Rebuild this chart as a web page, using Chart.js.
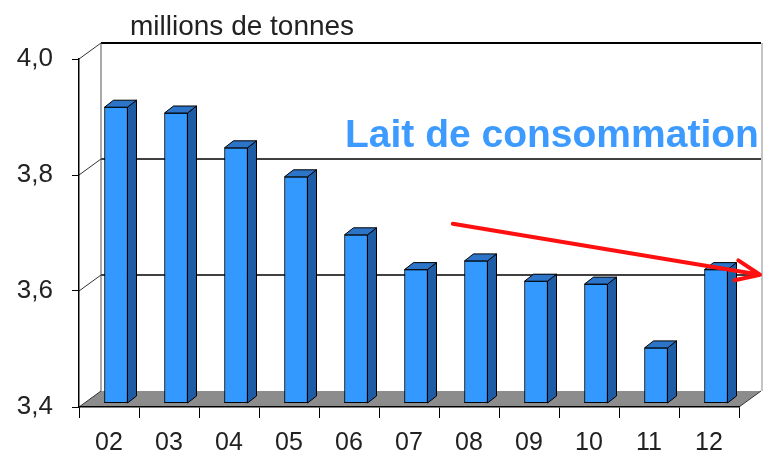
<!DOCTYPE html>
<html>
<head>
<meta charset="utf-8">
<script src="https://cdn.jsdelivr.net/npm/chart.js@4/dist/chart.umd.min.js"></script>
<style>
  html, body { margin: 0; padding: 0; background: #fff; }
  canvas { display: block; }
</style>
</head>
<body>
<canvas id="chart" width="767" height="456"></canvas>
<script>
// data
const years = ['02', '03', '04', '05', '06', '07', '08', '09', '10', '11', '12'];
const laitConsommation = [3.91, 3.90, 3.84, 3.79, 3.69, 3.63, 3.645, 3.61, 3.605, 3.495, 3.63];
const yTicks = [3.4, 3.6, 3.8, 4.0];

// trend arrow, in data units (category index, value)
const arrowFrom = [5.73, 3.716];
const arrowTo = [10.85, 3.628];

// fake 3d geometry
const wall = { dx: 22, dy: -16 };
const barDepth = { dx: 9, dy: -7 };
const barShift = { dx: 7, dy: -4 };

const fmt = (v) => v.toFixed(1).replace('.', ',');

const box3d = {
  id: 'box3d',
  beforeDraw(chart) {
    const { ctx, chartArea: a, scales: { y } } = chart;
    ctx.save();

    // floor
    ctx.beginPath();
    ctx.moveTo(a.left, a.bottom);
    ctx.lineTo(a.right, a.bottom);
    ctx.lineTo(a.right + wall.dx, a.bottom + wall.dy);
    ctx.lineTo(a.left + wall.dx, a.bottom + wall.dy);
    ctx.closePath();
    ctx.fillStyle = '#8c8c8c';
    ctx.fill();
    ctx.strokeStyle = '#333';
    ctx.lineWidth = 1;
    ctx.beginPath();
    ctx.moveTo(a.right, a.bottom);
    ctx.lineTo(a.right + wall.dx, a.bottom + wall.dy);
    ctx.stroke();

    // back wall grid lines + left wall diagonals
    yTicks.forEach((v) => {
      const py = y.getPixelForValue(v);
      ctx.strokeStyle = '#000';
      ctx.lineWidth = v === 4.0 ? 2 : 1.5;
      if (v > 3.4) {
        ctx.beginPath();
        ctx.moveTo(a.left + wall.dx, py + wall.dy);
        ctx.lineTo(a.right + wall.dx, py + wall.dy);
        ctx.stroke();
      }
      ctx.lineWidth = 1;
      ctx.strokeStyle = '#333';
      ctx.beginPath();
      ctx.moveTo(a.left, py);
      ctx.lineTo(a.left + wall.dx, py + wall.dy);
      ctx.stroke();
    });

    // left wall back edge
    ctx.strokeStyle = '#555';
    ctx.beginPath();
    ctx.moveTo(a.left + wall.dx, a.top + wall.dy);
    ctx.lineTo(a.left + wall.dx, a.bottom + wall.dy);
    ctx.stroke();

    // right wall edge
    ctx.strokeStyle = '#c4c4c4';
    ctx.lineWidth = 2;
    ctx.beginPath();
    ctx.moveTo(a.right + wall.dx + 1, a.top + wall.dy);
    ctx.lineTo(a.right + wall.dx + 1, a.bottom + wall.dy);
    ctx.stroke();

    ctx.restore();
  },
  beforeDatasetsDraw(chart) {
    chart.ctx.save();
    chart.ctx.translate(barShift.dx, barShift.dy);
  },
  afterDatasetsDraw(chart) {
    const { ctx, chartArea } = chart;
    const meta = chart.getDatasetMeta(0);
    ctx.lineWidth = 1;
    ctx.strokeStyle = '#000';
    meta.data.forEach((bar) => {
      const { x, y, width } = bar.getProps(['x', 'y', 'width'], true);
      const base = chartArea.bottom;
      const l = x - width / 2;
      const r = x + width / 2;
      // side
      ctx.beginPath();
      ctx.moveTo(r, y);
      ctx.lineTo(r + barDepth.dx, y + barDepth.dy);
      ctx.lineTo(r + barDepth.dx, base + barDepth.dy);
      ctx.lineTo(r, base);
      ctx.closePath();
      ctx.fillStyle = '#1f5ca6';
      ctx.fill();
      ctx.stroke();
      // top
      ctx.beginPath();
      ctx.moveTo(l, y);
      ctx.lineTo(l + barDepth.dx, y + barDepth.dy);
      ctx.lineTo(r + barDepth.dx, y + barDepth.dy);
      ctx.lineTo(r, y);
      ctx.closePath();
      ctx.fillStyle = '#2b74c8';
      ctx.fill();
      ctx.stroke();
      // bottom edge of front face
      ctx.beginPath();
      ctx.moveTo(l, base - 0.5);
      ctx.lineTo(r, base - 0.5);
      ctx.stroke();
    });
    ctx.restore();
  },
  afterDraw(chart) {
    const { ctx, scales: { x, y } } = chart;
    ctx.save();

    ctx.fillStyle = '#222';
    ctx.font = '28px "Liberation Sans", Arial, sans-serif';
    ctx.textBaseline = 'alphabetic';
    ctx.fillText('millions de tonnes', 130, 35);

    ctx.fillStyle = '#3d9bff';
    ctx.font = 'bold 39px "Liberation Sans", Arial, sans-serif';
    ctx.fillText('Lait de consommation', 345, 147, 416);

    // arrow
    const x0 = x.getPixelForValue(arrowFrom[0]);
    const y0 = y.getPixelForValue(arrowFrom[1]);
    const x1 = x.getPixelForValue(arrowTo[0]);
    const y1 = y.getPixelForValue(arrowTo[1]);
    const ang = Math.atan2(y1 - y0, x1 - x0);
    ctx.strokeStyle = '#ff1010';
    ctx.lineWidth = 4;
    ctx.lineCap = 'round';
    ctx.beginPath();
    ctx.moveTo(x0, y0);
    ctx.lineTo(x1, y1);
    [-0.38, 0.42].forEach((d) => {
      ctx.moveTo(x1, y1);
      ctx.lineTo(x1 - 26 * Math.cos(ang + d), y1 - 26 * Math.sin(ang + d));
    });
    ctx.stroke();

    ctx.restore();
  },
};

new Chart(document.getElementById('chart'), {
  type: 'bar',
  data: {
    labels: years,
    datasets: [
      {
        data: laitConsommation,
        backgroundColor: '#3399ff',
        borderColor: '#000',
        borderWidth: 1,
        barThickness: 23,
        borderSkipped: false,
      },
    ],
  },
  options: {
    responsive: false,
    animation: false,
    layout: { padding: { top: 59, right: 28, left: 0, bottom: 0 } },
    plugins: {
      legend: { display: false },
      tooltip: { enabled: false },
    },
    scales: {
      x: {
        offset: true,
        afterFit: (scale) => { scale.height = 49; },
        grid: {
          offset: true,
          drawOnChartArea: false,
          tickLength: 11,
          color: '#000',
        },
        border: { display: true, color: '#000', width: 1.5 },
        ticks: {
          color: '#222',
          padding: 10,
          font: { family: '"Liberation Sans", Arial, sans-serif', size: 25 },
        },
      },
      y: {
        min: 3.4,
        max: 4.0,
        afterFit: (scale) => { scale.width = 79; },
        grid: {
          drawOnChartArea: false,
          tickLength: 7,
          color: '#000',
        },
        border: { display: true, color: '#000', width: 1.5 },
        ticks: {
          stepSize: 0.2,
          color: '#222',
          padding: 19,
          callback: (v) => fmt(v),
          font: { family: '"Liberation Sans", Arial, sans-serif', size: 26 },
        },
      },
    },
  },
  plugins: [box3d],
});
</script>
</body>
</html>
